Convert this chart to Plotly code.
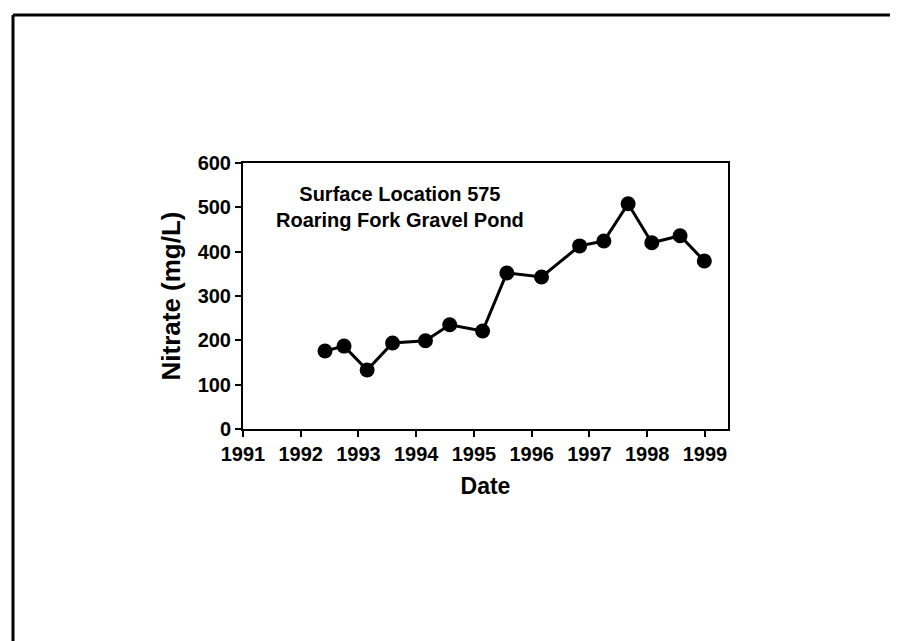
import plotly.graph_objects as go

# Data (decimal year, nitrate mg/L)
dates = [1992.42, 1992.75, 1993.15, 1993.59, 1994.16, 1994.58, 1995.15, 1995.57,
         1996.17, 1996.83, 1997.25, 1997.67, 1998.08, 1998.57, 1998.99]
nitrate = [176, 187, 133, 194, 199, 235, 221, 352, 343, 413, 424, 508, 420, 436, 379]

x_ticks = [1991, 1992, 1993, 1994, 1995, 1996, 1997, 1998, 1999]
y_ticks = [0, 100, 200, 300, 400, 500, 600]

W, H = 898, 641
L, R, T, B = 235, 178, 155, 220
pw, ph = W - L - R, H - T - B

def px_x(px):
    return (px - L) / pw

def px_y(py):
    return (H - B - py) / ph

FONT = "Liberation Sans, Arial, sans-serif"

fig = go.Figure()
fig.add_trace(go.Scatter(
    x=dates, y=nitrate, mode="lines+markers",
    line=dict(color="black", width=3),
    marker=dict(color="black", size=15),
    showlegend=False,
))

fig.update_layout(
    width=W, height=H,
    margin=dict(l=L, r=R, t=T, b=B),
    paper_bgcolor="white", plot_bgcolor="white",
    font=dict(family=FONT, color="black"),
    xaxis=dict(
        range=[1991, 1999.4], tickvals=x_ticks, ticktext=[str(v) for v in x_ticks],
        showgrid=False, zeroline=False,
        showline=True, linecolor="black", linewidth=2, mirror=True,
        ticks="outside", ticklen=6, tickwidth=2, tickcolor="black",
        tickfont=dict(family=FONT, size=20, color="black", weight="bold"),
        title=dict(text="<b>Date</b>", font=dict(family=FONT, size=23, color="black"), standoff=14),
    ),
    yaxis=dict(
        range=[0, 600], tickvals=y_ticks,
        showgrid=False, zeroline=False,
        showline=True, linecolor="black", linewidth=2, mirror=True,
        ticks="outside", ticklen=6, tickwidth=2, tickcolor="black",
        tickfont=dict(family=FONT, size=20, color="black", weight="bold"),
        title=dict(text="<b>Nitrate (mg/L)</b>", font=dict(family=FONT, size=26, color="black"), standoff=10),
    ),
    annotations=[dict(
        x=px_x(392), y=px_y(199), xref="paper", yref="paper",
        text="<b>Surface Location 575<br>Roaring Fork Gravel Pond</b>",
        showarrow=False, align="center", xanchor="center", yanchor="middle",
        font=dict(family=FONT, size=20, color="black"),
    )],
    shapes=[
        dict(type="line", xref="paper", yref="paper",
             x0=px_x(5), x1=px_x(898), y0=px_y(7), y1=px_y(7),
             line=dict(color="black", width=3)),
        dict(type="line", xref="paper", yref="paper",
             x0=px_x(5), x1=px_x(5), y0=px_y(7), y1=px_y(641),
             line=dict(color="black", width=3)),
    ],
)

fig.write_html("out.html")
